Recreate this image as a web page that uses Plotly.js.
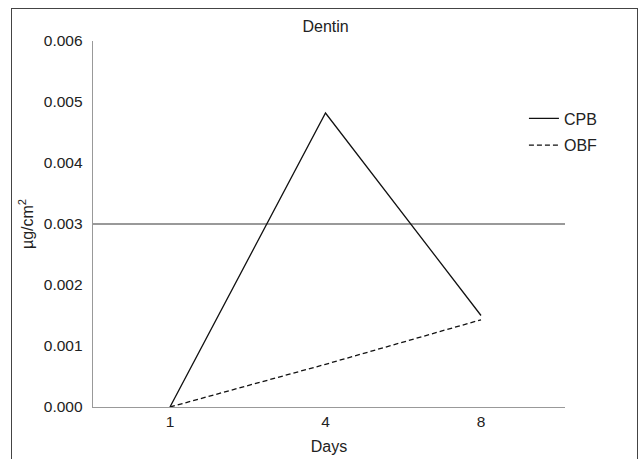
<!DOCTYPE html>
<html><head><meta charset="utf-8">
<script src="https://cdn.plot.ly/plotly-3.0.1.min.js"></script>
<style>
html,body{margin:0;padding:0;background:#fff;}
#wrap{position:relative;width:641px;height:459px;overflow:hidden;}
#chart{position:absolute;left:0;top:0;width:641px;height:459px;}
#frame{position:absolute;left:11px;top:8px;width:625px;height:470px;border:1px solid #444;pointer-events:none;}
</style></head>
<body><div id="wrap"><div id="chart"></div><div id="frame"></div></div>
<script>
const days = ['1', '4', '8'];
const cpb = [0, 0.00482, 0.0015];
const obf = [0, 0.0007, 0.00143];
const yTicks = [0, 0.001, 0.002, 0.003, 0.004, 0.005, 0.006];
const yTickText = ['0.000', '0.001', '0.002', '0.003', '0.004', '0.005', '0.006'];

const FF = 'Liberation Sans, Arial, sans-serif';
const font = {family: FF, size: 15.5, color: '#222'};
const traces = [
  {x: days, y: cpb, name: 'CPB', type: 'scatter', mode: 'lines', legendgroup: 'a',
   line: {color: '#111', width: 1.3}},
  {x: days, y: obf, name: 'OBF', type: 'scatter', mode: 'lines', legendgroup: 'b',
   line: {color: '#111', width: 1.3, dash: '5px,3px'}},
  {x: days, y: [null, null, null], yaxis: 'y2', showlegend: false, hoverinfo: 'skip', type: 'scatter', mode: 'lines'}
];
const layout = {
  width: 641, height: 459,
  margin: {l: 93, r: 76, t: 41, b: 52},
  paper_bgcolor: '#fff', plot_bgcolor: '#fff',
  font: font,
  title: {text: 'Dentin', font: {family: FF, size: 16, color: '#222'}, x: 0.508, xanchor: 'center', y: 0.942, yanchor: 'middle'},
  showlegend: true,
  legend: {x: 0.913, xanchor: 'left', y: 0.835, yanchor: 'top', font: {family: FF, size: 16, color: '#222'},
           tracegroupgap: 3, bgcolor: 'rgba(0,0,0,0)'},
  xaxis: {type: 'category', range: [-0.495, 2.54], showgrid: false, zeroline: false,
          showline: true, linecolor: '#999', linewidth: 1.3, ticks: '', tickfont: font,
          title: {text: 'Days', font: {family: FF, size: 16, color: '#222'}, standoff: 12}},
  yaxis: {range: [0, 0.006], tickvals: yTicks, ticktext: yTickText, showgrid: false, zeroline: false,
          showline: true, linecolor: '#999', linewidth: 1.3, ticks: '', ticklabelstandoff: 6, tickfont: font,
          title: {text: 'µg/cm<sup>2</sup>', font: {family: FF, size: 16, color: '#222'}, standoff: 6}},
  yaxis2: {range: [0, 0.006], overlaying: 'y', tickvals: [0.003, 0.006], showticklabels: false, showgrid: true,
           gridcolor: '#999', gridwidth: 1.2, zeroline: false, showline: false, ticks: ''}
};
Plotly.newPlot('chart', traces, layout, {displayModeBar: false, staticPlot: true});
</script></body></html>
